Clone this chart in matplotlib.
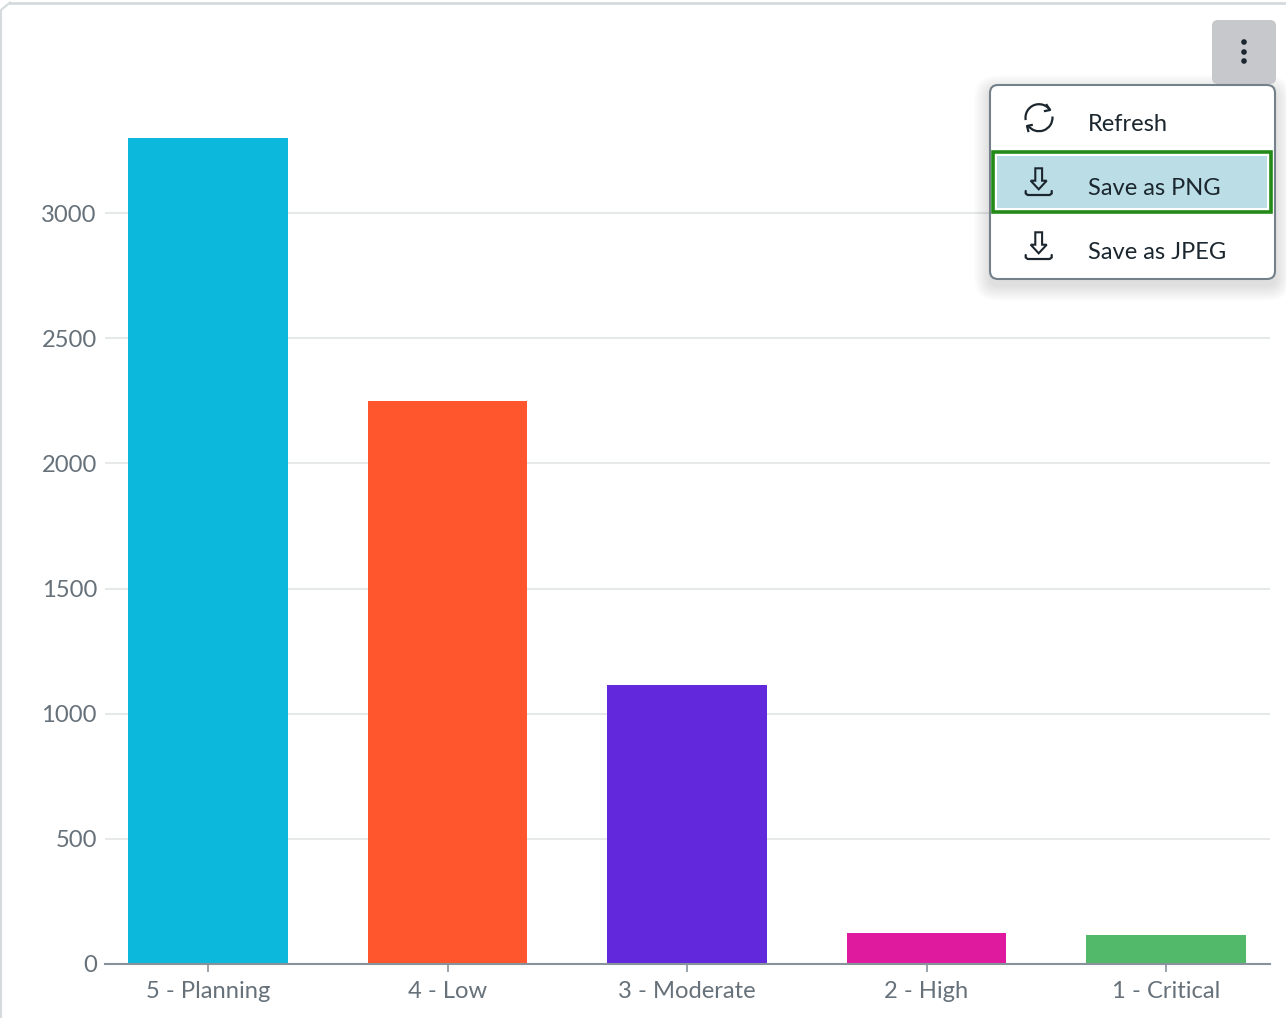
import numpy as np
import matplotlib
matplotlib.use('Agg')
import matplotlib.pyplot as plt
from matplotlib.patches import FancyBboxPatch, Rectangle, Circle, Arc, Polygon

W, H = 1286, 1018

categories = ['5 - Planning', '4 - Low', '3 - Moderate', '2 - High', '1 - Critical']
values = [3300, 2250, 1113, 124, 114]
colors = ['#0CB9DC', '#FF562E', '#6228DC', '#E01A9F', '#53B96A']
yticks = [0, 500, 1000, 1500, 2000, 2500, 3000]
menu_items = ['Refresh', 'Save as PNG', 'Save as JPEG']

plt.rcParams['font.family'] = ['Lato', 'DejaVu Sans']

fig = plt.figure(figsize=(W / 100, H / 100), dpi=100, facecolor='white')

# Bar chart
ax = fig.add_axes([105 / W, 1 - 964 / H, (1270 - 105) / W, (964 - 100) / H])
x = np.arange(len(categories))
ax.bar(x, values, width=0.666, color=colors, zorder=3)
ax.set_xlim(-0.43, 4.434)
ax.set_ylim(0, 864 / 0.2503)
ax.set_xticks(x)
ax.set_xticklabels(categories)
ax.set_yticks(yticks)
ax.yaxis.grid(True, color='#E6E8EA', linewidth=1.5, zorder=0)
ax.set_axisbelow(True)
for side in ['top', 'right', 'left']:
    ax.spines[side].set_visible(False)
ax.spines['bottom'].set_color('#87929B')
ax.spines['bottom'].set_linewidth(1.5)
ax.spines['bottom'].set_zorder(5)
ax.tick_params(axis='x', length=5.5, width=1.2, color='#87929B', labelcolor='#66717A',
               labelsize=17.1, pad=7)
ax.tick_params(axis='y', length=0, labelcolor='#66717A', labelsize=17.1, pad=5.8)

# Overlay in pixel coordinates for the card frame and the export menu
ui = fig.add_axes([0, 0, 1, 1], facecolor='none')
ui.set_xlim(0, W)
ui.set_ylim(H, 0)
ui.axis('off')

INK = '#1B262E'


def rounded(x0, y0, x1, y1, r, **kw):
    p = FancyBboxPatch((x0 + r, y0 + r), x1 - x0 - 2 * r, y1 - y0 - 2 * r,
                       boxstyle='round,pad=%g,rounding_size=%g' % (r, r), **kw)
    ui.add_patch(p)
    return p


def download_icon(cx, cy):
    # arrow outline over a tray
    pts = [(cx - 3.4, cy - 13.7), (cx + 3.4, cy - 13.7), (cx + 3.4, cy - 1.3), (cx + 8, cy - 1.3),
           (cx, cy + 7.3), (cx - 8, cy - 1.3), (cx - 3.4, cy - 1.3)]
    ui.add_patch(Polygon(pts, closed=True, fill=False, edgecolor=INK, linewidth=1.5))
    ui.plot([cx - 13, cx - 13, cx - 11, cx + 11, cx + 13, cx + 13],
            [cy + 9, cy + 11.5, cy + 13, cy + 13, cy + 11.5, cy + 9],
            color=INK, linewidth=1.6, solid_capstyle='round', solid_joinstyle='round')


# card frame along the top and left edges
ui.plot([1, 1, 10], [1018, 10, 2.5], color='#D5DADD', linewidth=1.5)
ui.plot([10, W], [2.5, 2.5], color='#D5DADD', linewidth=2)

# soft shadow beneath the menu
for grow in range(1, 17):
    rounded(990 - grow, 85 - grow + 6, 1275 + grow, 279 + grow + 6, 8 + grow,
            facecolor='black', edgecolor='none', alpha=0.009)

# kebab button
rounded(1212, 20, 1276, 84, 6, facecolor='#C7C8CB', edgecolor='none')
for cy in [42, 52, 61]:
    ui.add_patch(Circle((1244, cy), 2.8, facecolor=INK, edgecolor='none'))

# menu body
rounded(990, 85, 1275, 279, 8, facecolor='white', edgecolor='#74808A', linewidth=1.5)

# highlighted item with a green focus ring
ui.add_patch(Rectangle((992.5, 152), 278, 60, facecolor='white', edgecolor='#238A17', linewidth=2.6))
ui.add_patch(Rectangle((996.5, 156), 270, 52, facecolor='#BBDDE6', edgecolor='none'))

for label, ty in zip(menu_items, [124, 188, 252]):
    ui.text(1088, ty, label, fontsize=17, color=INK, va='center', ha='left')

# refresh icon
ui.add_patch(Arc((1039, 117.7), 27, 27, theta1=170, theta2=325, color=INK, linewidth=1.6))
ui.add_patch(Arc((1039, 117.7), 27, 27, theta1=-5, theta2=145, color=INK, linewidth=1.6))
ui.plot([1046.7, 1050, 1045], [105, 110, 111], color=INK, linewidth=1.6)
ui.plot([1031.7, 1027, 1028.3], [125, 126, 131], color=INK, linewidth=1.6)

download_icon(1038.7, 182)
download_icon(1038.7, 246)

fig.savefig('out.png', dpi=100, facecolor='white')
